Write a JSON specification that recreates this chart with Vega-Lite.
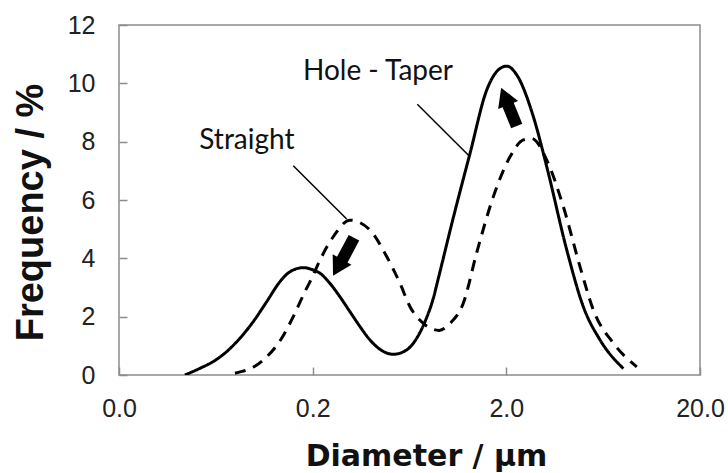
{
  "$schema": "https://vega.github.io/schema/vega-lite/v6.json",
  "width": 581,
  "height": 350,
  "autosize": {"type": "none"},
  "padding": {"left": 119, "top": 25, "right": 28, "bottom": 98},
  "background": "white",
  "config": {
    "view": {"stroke": "#8c8c8c", "strokeWidth": 1.5},
    "axis": {
      "grid": false,
      "domain": false,
      "tickColor": "#8c8c8c",
      "tickWidth": 1.5,
      "tickSize": -8,
      "labelFont": "Liberation Sans",
      "labelFontSize": 25,
      "labelColor": "#222222",
      "titleFont": "Liberation Sans",
      "titleFontWeight": "bold",
      "titleColor": "#111111"
    }
  },
  "datasets": {
    "curves": [
      {"d": 0.0438, "f": 0.0, "s": "Hole - Taper"},
      {"d": 0.0524, "f": 0.23, "s": "Hole - Taper"},
      {"d": 0.0613, "f": 0.46, "s": "Hole - Taper"},
      {"d": 0.0719, "f": 0.8, "s": "Hole - Taper"},
      {"d": 0.0842, "f": 1.26, "s": "Hole - Taper"},
      {"d": 0.0987, "f": 1.83, "s": "Hole - Taper"},
      {"d": 0.1157, "f": 2.51, "s": "Hole - Taper"},
      {"d": 0.1356, "f": 3.2, "s": "Hole - Taper"},
      {"d": 0.1527, "f": 3.54, "s": "Hole - Taper"},
      {"d": 0.1788, "f": 3.68, "s": "Hole - Taper"},
      {"d": 0.2014, "f": 3.6, "s": "Hole - Taper"},
      {"d": 0.2182, "f": 3.49, "s": "Hole - Taper"},
      {"d": 0.2457, "f": 3.14, "s": "Hole - Taper"},
      {"d": 0.2767, "f": 2.68, "s": "Hole - Taper"},
      {"d": 0.3116, "f": 2.17, "s": "Hole - Taper"},
      {"d": 0.351, "f": 1.66, "s": "Hole - Taper"},
      {"d": 0.3954, "f": 1.2, "s": "Hole - Taper"},
      {"d": 0.4453, "f": 0.88, "s": "Hole - Taper"},
      {"d": 0.5217, "f": 0.71, "s": "Hole - Taper"},
      {"d": 0.6115, "f": 0.86, "s": "Hole - Taper"},
      {"d": 0.689, "f": 1.26, "s": "Hole - Taper"},
      {"d": 0.7606, "f": 1.83, "s": "Hole - Taper"},
      {"d": 0.8393, "f": 2.63, "s": "Hole - Taper"},
      {"d": 0.8908, "f": 3.31, "s": "Hole - Taper"},
      {"d": 1.065, "f": 5.4, "s": "Hole - Taper"},
      {"d": 1.299, "f": 7.6, "s": "Hole - Taper"},
      {"d": 1.584, "f": 9.77, "s": "Hole - Taper"},
      {"d": 1.856, "f": 10.51, "s": "Hole - Taper"},
      {"d": 2.01, "f": 10.59, "s": "Hole - Taper"},
      {"d": 2.263, "f": 10.29, "s": "Hole - Taper"},
      {"d": 2.757, "f": 8.86, "s": "Hole - Taper"},
      {"d": 3.234, "f": 7.14, "s": "Hole - Taper"},
      {"d": 4.102, "f": 4.29, "s": "Hole - Taper"},
      {"d": 4.996, "f": 2.34, "s": "Hole - Taper"},
      {"d": 6.095, "f": 1.2, "s": "Hole - Taper"},
      {"d": 8.04, "f": 0.22, "s": "Hole - Taper"},
      {"d": 0.0794, "f": 0.06, "s": "Straight"},
      {"d": 0.1111, "f": 0.51, "s": "Straight"},
      {"d": 0.1383, "f": 1.26, "s": "Straight"},
      {"d": 0.1588, "f": 2.0, "s": "Straight"},
      {"d": 0.1825, "f": 2.86, "s": "Straight"},
      {"d": 0.1976, "f": 3.31, "s": "Straight"},
      {"d": 0.2182, "f": 3.94, "s": "Straight"},
      {"d": 0.2555, "f": 4.74, "s": "Straight"},
      {"d": 0.3116, "f": 5.31, "s": "Straight"},
      {"d": 0.3954, "f": 4.97, "s": "Straight"},
      {"d": 0.4823, "f": 4.06, "s": "Straight"},
      {"d": 0.565, "f": 3.14, "s": "Straight"},
      {"d": 0.6363, "f": 2.34, "s": "Straight"},
      {"d": 0.7454, "f": 1.77, "s": "Straight"},
      {"d": 0.9, "f": 1.53, "s": "Straight"},
      {"d": 1.024, "f": 1.77, "s": "Straight"},
      {"d": 1.199, "f": 2.46, "s": "Straight"},
      {"d": 1.407, "f": 4.2, "s": "Straight"},
      {"d": 1.713, "f": 6.11, "s": "Straight"},
      {"d": 2.09, "f": 7.48, "s": "Straight"},
      {"d": 2.448, "f": 8.06, "s": "Straight"},
      {"d": 2.705, "f": 8.11, "s": "Straight"},
      {"d": 3.234, "f": 7.37, "s": "Straight"},
      {"d": 3.939, "f": 5.77, "s": "Straight"},
      {"d": 4.805, "f": 3.71, "s": "Straight"},
      {"d": 5.628, "f": 2.23, "s": "Straight"},
      {"d": 7.141, "f": 1.09, "s": "Straight"},
      {"d": 9.432, "f": 0.28, "s": "Straight"}
    ],
    "leaders": [
      {"d": 0.1588, "f": 7.175, "d2": 0.2996, "f2": 5.35},
      {"d": 0.694, "f": 9.28, "d2": 1.283, "f2": 7.52}
    ],
    "shafts": [
      {"d": 0.3268, "f": 4.707, "d2": 0.2767, "f2": 3.805},
      {"d": 2.263, "f": 8.536, "d2": 2.029, "f2": 9.307}
    ],
    "heads": [
      {"d": 0.2689, "f": 3.682, "angle": 209},
      {"d": 1.96, "f": 9.554, "angle": 338}
    ],
    "labels": [
      {"d": 0.0915, "f": 8.02, "text": "Straight"},
      {"d": 0.4348, "f": 10.39, "text": "Hole - Taper"}
    ]
  },
  "layer": [
    {
      "data": {"name": "curves"},
      "mark": {"type": "line", "interpolate": "monotone", "strokeWidth": 3, "color": "black", "clip": true},
      "encoding": {
        "x": {
          "field": "d", "type": "quantitative",
          "scale": {"type": "log", "domain": [0.02, 20], "nice": false},
          "axis": {
            "values": [0.02, 0.2, 2, 20],
            "format": ".1f",
            "labelPadding": 29,
            "title": "Diameter / μm",
            "titleFont": "DejaVu Sans",
            "titleFontSize": 30,
            "titleX": 307,
            "titleY": 90,
            "titleAlign": "center",
            "titleBaseline": "alphabetic",
            "labelFlush": false
          }
        },
        "y": {
          "field": "f", "type": "quantitative",
          "scale": {"domain": [0, 12], "nice": false},
          "axis": {
            "values": [0, 2, 4, 6, 8, 10, 12],
            "labelPadding": 32,
            "title": "Frequency / %",
            "titleFontSize": 38,
            "titleX": -77,
            "titleY": 187,
            "titleAngle": -90,
            "titleAlign": "center",
            "titleBaseline": "alphabetic"
          }
        },
        "strokeDash": {
          "field": "s", "type": "nominal",
          "scale": {"domain": ["Hole - Taper", "Straight"], "range": [[1, 0], [11, 8]]},
          "legend": null
        }
      }
    },
    {
      "data": {"name": "leaders"},
      "mark": {"type": "rule", "color": "black", "strokeWidth": 1.5},
      "encoding": {
        "x": {"field": "d", "type": "quantitative"},
        "y": {"field": "f", "type": "quantitative"},
        "x2": {"field": "d2"},
        "y2": {"field": "f2"}
      }
    },
    {
      "data": {"name": "shafts"},
      "mark": {"type": "rule", "color": "black", "strokeWidth": 12, "strokeCap": "butt"},
      "encoding": {
        "x": {"field": "d", "type": "quantitative"},
        "y": {"field": "f", "type": "quantitative"},
        "x2": {"field": "d2"},
        "y2": {"field": "f2"}
      }
    },
    {
      "data": {"name": "heads"},
      "mark": {"type": "point", "shape": "triangle-up", "filled": true, "color": "black", "opacity": 1, "size": 460},
      "encoding": {
        "x": {"field": "d", "type": "quantitative"},
        "y": {"field": "f", "type": "quantitative"},
        "angle": {"field": "angle", "type": "quantitative", "scale": null}
      }
    },
    {
      "data": {"name": "labels"},
      "mark": {"type": "text", "font": "Lato", "fontSize": 28, "color": "#111111", "align": "center", "baseline": "middle"},
      "encoding": {
        "x": {"field": "d", "type": "quantitative"},
        "y": {"field": "f", "type": "quantitative"},
        "text": {"field": "text", "type": "nominal"}
      }
    }
  ]
}
